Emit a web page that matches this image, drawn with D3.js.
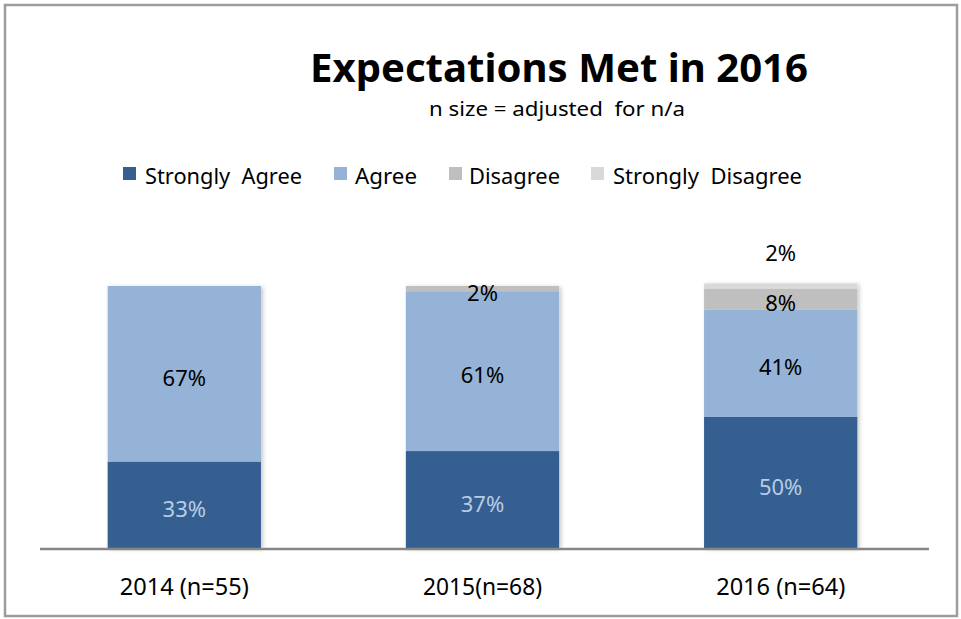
<!DOCTYPE html>
<html>
<head>
<meta charset="utf-8">
<script src="https://cdn.jsdelivr.net/npm/d3@7"></script>
<style>
  body { margin: 0; background: #fff; }
  text { font-family: "Noto Sans", "Open Sans", sans-serif; white-space: pre; }
</style>
</head>
<body>
<div id="chart"></div>
<script>
// data
const years = ["2014 (n=55)", "2015(n=68)", "2016 (n=64)"];
const seriesNames = ["Strongly Agree", "Agree", "Disagree", "Strongly Disagree"];
const stronglyAgree = [33, 37, 50];
const agree = [67, 61, 41];
const disagree = [0, 2, 8];
const stronglyDisagree = [0, 0, 2];
const colors = ["#355f91", "#95b3d7", "#bfbfbf", "#d9d9d9"];

const width = 961, height = 619;
const svg = d3.select("#chart").append("svg")
  .attr("width", width)
  .attr("height", height);

// frame
svg.append("rect")
  .attr("x", 5).attr("y", 5)
  .attr("width", 952).attr("height", 611)
  .attr("fill", "#fff")
  .attr("stroke", "#9d9d9d")
  .attr("stroke-width", 2.5);

const defs = svg.append("defs");
const f = defs.append("filter").attr("id", "shadow")
  .attr("x", "-10%").attr("y", "-10%").attr("width", "120%").attr("height", "120%");
f.append("feDropShadow").attr("dx", 2).attr("dy", 1).attr("stdDeviation", 2)
  .attr("flood-color", "#000").attr("flood-opacity", 0.22);

// scales
const x = d3.scaleBand().domain(years).range([37, 928]).paddingInner(0.486).paddingOuter(0.237);
const y = d3.scaleLinear().domain([0, 100]).range([548, 286]);

const table = years.map((yr, i) => ({
  year: yr,
  "Strongly Agree": stronglyAgree[i],
  "Agree": agree[i],
  "Disagree": disagree[i],
  "Strongly Disagree": stronglyDisagree[i]
}));
const stacked = d3.stack().keys(seriesNames)(table);

// bars
const groups = svg.append("g").attr("filter", "url(#shadow)")
  .selectAll("g")
  .data(stacked)
  .join("g")
  .attr("fill", (d, i) => colors[i]);

groups.selectAll("rect")
  .data(d => d)
  .join("rect")
  .attr("x", d => x(d.data.year))
  .attr("width", x.bandwidth())
  .attr("y", d => y(d[1]))
  .attr("height", d => y(d[0]) - y(d[1]));

// value labels
stacked.forEach(function(s, si) {
  s.forEach(function(d) {
    const v = d[1] - d[0];
    if (v <= 0) return;
    let ty = (y(d[0]) + y(d[1])) / 2 + 12;
    // the tiny top slice of 2016 has its label above the bar
    if (si === 3) ty = y(d[1]) - 22;
    svg.append("text")
      .attr("x", x(d.data.year) + x.bandwidth() / 2)
      .attr("y", ty)
      .attr("text-anchor", "middle")
      .attr("font-size", 22)
      .attr("fill", si === 0 ? "#b8cce4" : "#000")
      .text(v + "%");
  });
});

// axis line
svg.append("line")
  .attr("x1", 40).attr("x2", 929)
  .attr("y1", 549).attr("y2", 549)
  .attr("stroke", "#868686")
  .attr("stroke-width", 2.5);

// category labels
const labelWidths = [129, 119, 129];
const xAxis = d3.axisBottom(x).tickSize(0).tickPadding(0);
const ax = svg.append("g").attr("transform", "translate(0,595)").call(xAxis);
ax.select(".domain").remove();
ax.selectAll("text")
  .attr("font-size", 23)
  .attr("fill", "#000")
  .attr("dy", 0)
  .attr("textLength", (d, i) => labelWidths[i])
  .attr("lengthAdjust", "spacingAndGlyphs");

// title
svg.append("text")
  .attr("x", 559).attr("y", 82)
  .attr("text-anchor", "middle")
  .attr("font-size", 40)
  .attr("font-weight", "bold")
  .attr("textLength", 498)
  .attr("lengthAdjust", "spacingAndGlyphs")
  .text("Expectations Met in 2016");

svg.append("text")
  .attr("x", 429).attr("y", 116)
  .attr("font-size", 19)
  .attr("textLength", 256)
  .attr("lengthAdjust", "spacingAndGlyphs")
  .text("n size = adjusted  for n/a");

// legend
const legendBox = [123, 334, 449, 591];
const legendText = [145, 355, 469, 613];
const legendWidth = [157, 62, 91, 189];
const legend = svg.append("g");
seriesNames.forEach(function(name, i) {
  legend.append("rect")
    .attr("x", legendBox[i]).attr("y", 167)
    .attr("width", 13).attr("height", 13)
    .attr("fill", colors[i]);
  legend.append("text")
    .attr("x", legendText[i]).attr("y", 184)
    .attr("font-size", 21)
    .attr("textLength", legendWidth[i])
    .attr("lengthAdjust", "spacingAndGlyphs")
    .text(name.replace(" ", "  "));
});
</script>
</body>
</html>
